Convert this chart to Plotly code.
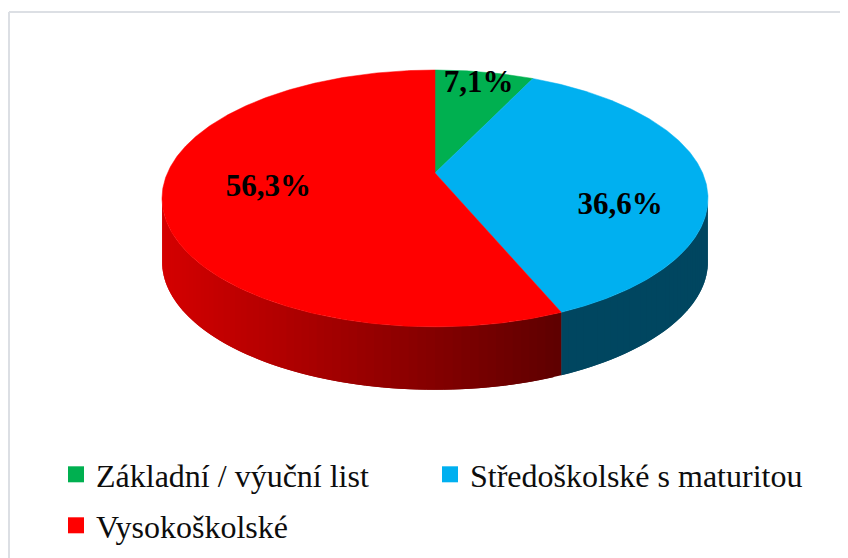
import numpy as np
import plotly.graph_objects as go

# ---------------- data ----------------
categories = ["Základní / výuční list", "Středoškolské s maturitou", "Vysokoškolské"]
shares = [7.1, 36.6, 56.3]
value_labels = ["7,1%", "36,6%", "56,3%"]

# ---------------- style ----------------
top_colors = ["#00B050", "#00B0F0", "#FF0000"]
label_radius = [0.86, 0.705, 0.62]
label_angle_shift = [0.0, 20.0, 0.0]
CX, CY = 435.0, 173.0          # disc centre (page pixels)
A, B, K = 267.6, 123.4, 0.198  # half-axes and perspective factor
DEPTH = 63.0
OFF = 8                        # page body margin
W, H = 848 - OFF, 558 - OFF    # figure fits the window
FONT = "Liberation Serif, Times New Roman, serif"


def proj(theta_deg, r=1.0):
    t = np.radians(theta_deg)
    u = r * np.sin(t)
    v = -r * np.cos(t)
    s = 1.0 / (1.0 - K * v)
    return CX + A * u * s, CY + B * v * s


def hex_rgb(h):
    h = h.lstrip("#")
    return tuple(int(h[i:i + 2], 16) for i in (0, 2, 4))


def side_color(idx, x):
    r, g, b = hex_rgb(top_colors[idx])
    if idx == 2:
        f = 0.83 + (0.37 - 0.83) * (x - 165) / (560 - 165)
        f = max(0.3, min(0.85, f))
    else:
        f = 0.40
    return "rgb(%d,%d,%d)" % (round(r * f), round(g * f), round(b * f))


# cumulative angles (clockwise from 12 o'clock)
total = sum(shares)
bounds = [0.0]
for s in shares:
    bounds.append(bounds[-1] + s / total * 360.0)

# visible side range (silhouette where cos(theta) = -K)
vis0 = np.degrees(np.arccos(-K))
vis1 = 360.0 - vis0

fig = go.Figure()

# side walls, drawn as overlapping thin strips to imitate the shading gradient
for i in range(len(shares)):
    a0 = max(bounds[i], vis0)
    a1 = min(bounds[i + 1], vis1)
    if a1 <= a0:
        continue
    n = max(2, int((a1 - a0) / 1.5))
    edges = np.linspace(a0, a1, n + 1)
    for j in range(n):
        t = np.linspace(edges[j], edges[min(j + 2, n)], 6)
        xs, ys = proj(t)
        px = list(xs) + list(xs[::-1])
        py = list(ys) + list(ys[::-1] + DEPTH)
        col = side_color(i, float(np.mean(proj(np.linspace(edges[j], edges[j + 1], 3))[0])))
        fig.add_trace(go.Scatter(
            x=px + [px[0]], y=py + [py[0]], mode="lines", fill="toself",
            fillcolor=col, line=dict(width=0),
            hoverinfo="skip", showlegend=False))

# top faces
for i in range(len(shares)):
    t = np.linspace(bounds[i], bounds[i + 1], max(8, int((bounds[i + 1] - bounds[i]) * 2)))
    xs, ys = proj(t)
    px = [CX] + list(xs) + [CX]
    py = [CY] + list(ys) + [CY]
    fig.add_trace(go.Scatter(
        x=px, y=py, mode="lines", fill="toself", fillcolor=top_colors[i],
        line=dict(color=top_colors[i], width=0.5),
        hoverinfo="text", text=f"{categories[i]}: {value_labels[i]}",
        showlegend=False))

# value labels
for i in range(len(shares)):
    mid = (bounds[i] + bounds[i + 1]) / 2 + label_angle_shift[i]
    lx, ly = proj(mid, label_radius[i])
    fig.add_trace(go.Scatter(
        x=[lx], y=[ly], mode="text", text=[f"<b>{value_labels[i]}</b>"],
        textfont=dict(family=FONT, size=31, color="#000000"),
        hoverinfo="skip", showlegend=False))

# legend entries (two rows: legend and legend2)
for i in range(len(shares)):
    fig.add_trace(go.Scatter(
        x=[None], y=[None], mode="markers", name=categories[i],
        legend="legend" if i < 2 else "legend2",
        marker=dict(symbol="square", size=16, color=top_colors[i])))

# chart frame (only the top and left edges fall inside the picture)
fig.add_shape(type="line", xref="paper", yref="paper", x0=1 / W, x1=1.0,
              y0=1 - 4 / H, y1=1 - 4 / H, line=dict(color="#DCDFE4", width=2), layer="below")
fig.add_shape(type="line", xref="paper", yref="paper", x0=1 / W, x1=1 / W,
              y0=1 - 4 / H, y1=0.0, line=dict(color="#DCDFE4", width=2), layer="below")

leg_common = dict(
    orientation="h", xanchor="left", yanchor="top",
    entrywidth=329, entrywidthmode="pixels",
    font=dict(family=FONT, size=32, color="#0D0D0D"),
    bgcolor="rgba(0,0,0,0)", itemclick=False, itemdoubleclick=False)

fig.update_layout(
    width=W, height=H,
    margin=dict(l=0, r=0, t=0, b=0),
    paper_bgcolor="white", plot_bgcolor="white",
    xaxis=dict(range=[OFF, W + OFF], visible=False, fixedrange=True),
    yaxis=dict(range=[H + OFF, OFF], visible=False, fixedrange=True),
    legend=dict(x=48 / W, y=1 - 439 / H, **leg_common),
    legend2=dict(x=48 / W, y=1 - 490 / H, **leg_common),
    showlegend=True,
)

fig.write_html("out.html")
